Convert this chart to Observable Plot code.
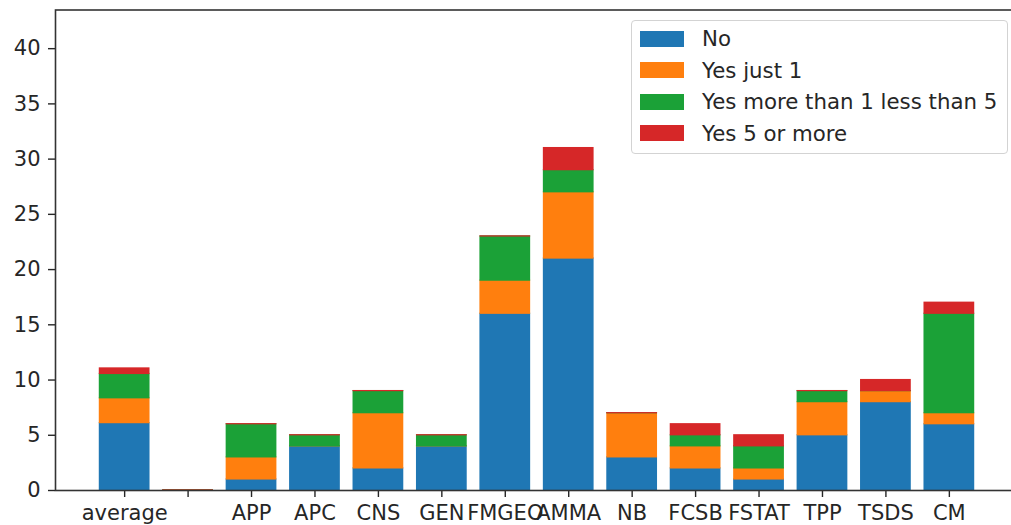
<!DOCTYPE html>
<html>
<head>
<meta charset="utf-8">
<script src="https://cdn.jsdelivr.net/npm/d3@7"></script>
<script src="https://cdn.jsdelivr.net/npm/@observablehq/plot@0.6"></script>
<style>
  html, body { margin: 0; padding: 0; background: white; overflow: hidden; }
  #wrap { position: relative; width: 1011px; height: 525px; overflow: hidden; }
  #chart svg { max-width: none !important; overflow: hidden; }
  #legend {
    position: absolute; left: 631px; top: 20px; width: 377px; height: 134px;
    border: 1px solid #d3d3d3; border-radius: 4px; background: rgba(255,255,255,0.85);
    font-family: "DejaVu Sans"; font-size: 21.3px; color: #262626; box-sizing: border-box;
  }
  .row { position: absolute; left: 8px; height: 24px; display: flex; align-items: center; white-space: nowrap; }
  .sw { width: 44px; height: 16px; margin-right: 18px; }
</style>
</head>
<body>
<div id="wrap"><div id="chart"></div><div id="legend"></div></div>
<script>
const categories = ["average", "", "APP", "APC", "CNS", "GEN", "FMGEO", "AMMA", "NB", "FCSB", "FSTAT", "TPP", "TSDS", "CM"];
const seriesNames = ["No", "Yes just 1", "Yes more than 1 less than 5", "Yes 5 or more"];
const no            = [6.1, 0, 1, 4, 2, 4, 16, 21, 3, 2, 1, 5, 8, 6];
const yesJust1      = [2.25, 0, 2, 0, 5, 0, 3, 6, 4, 2, 1, 3, 1, 1];
const yesMore1Less5 = [2.2, 0, 3, 1, 2, 1, 4, 2, 0, 1, 2, 1, 0, 9];
const yes5OrMore    = [0.5, 0, 0, 0, 0, 0, 0, 2, 0, 1, 1, 0, 1, 1];
const yTicks = [0, 5, 10, 15, 20, 25, 30, 35, 40];
const colors = ["#1f77b4", "#ff7f0e", "#1ba137", "#d62728"];

const seriesValues = [no, yesJust1, yesMore1Less5, yes5OrMore];
const data = [];
seriesNames.forEach((s, si) => {
  categories.forEach((c, ci) => data.push({category: c, series: s, value: seriesValues[si][ci]}));
});

const chart = Plot.plot({
  width: 1011,
  height: 525,
  marginTop: 9.5,
  marginBottom: 35,
  marginLeft: 55,
  marginRight: -7,
  style: {fontFamily: "DejaVu Sans", fontSize: "21px", color: "#262626", background: "white"},
  x: {domain: categories, paddingInner: 0.2, paddingOuter: 0.69, align: 0.5, round: false, label: null},
  y: {domain: [0, 43.5], label: null},
  color: {domain: seriesNames, range: colors},
  marks: [
    Plot.barY(data, {x: "category", y: "value", fill: "series", insetTop: -0.6, insetBottom: -0.6}),
    Plot.axisY({ticks: yTicks, tickSize: 7, tickPadding: 8, label: null, strokeWidth: 1.4}),
    Plot.axisX({tickSize: 7, tickPadding: 8, label: null, strokeWidth: 1.4}),
    Plot.frame({stroke: "#333", strokeWidth: 1.6})
  ]
});
chart.style.maxWidth = "none";
document.getElementById("chart").appendChild(chart);

const legend = document.getElementById("legend");
seriesNames.forEach((s, i) => {
  const row = document.createElement("div");
  row.className = "row";
  row.style.top = (5.5 + 31.55 * i) + "px";
  const sw = document.createElement("div");
  sw.className = "sw";
  sw.style.background = colors[i];
  const t = document.createElement("span");
  t.textContent = s;
  row.appendChild(sw);
  row.appendChild(t);
  legend.appendChild(row);
});
</script>
</body>
</html>
